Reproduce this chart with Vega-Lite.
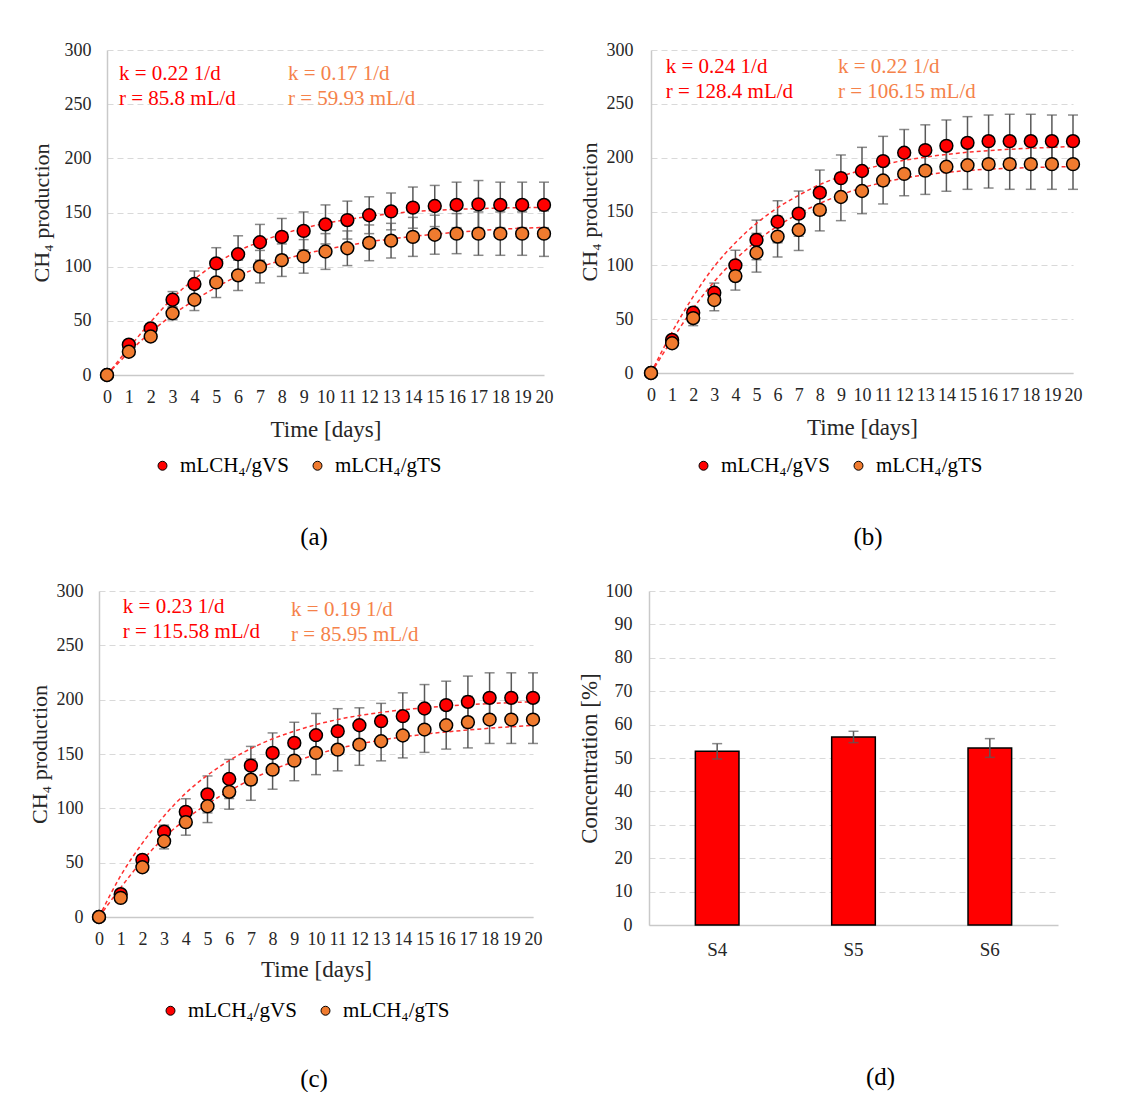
{
"$schema": "https://vega.github.io/schema/vega-lite/v6.json",
"background": "white",
"padding": {"left": 28, "top": 41, "right": 0, "bottom": 0},
"datasets": {
"pts": [
{"p":"a","s":"mLCH₄/gVS","d":0,"v":0,"e":0},{"p":"a","s":"mLCH₄/gVS","d":1,"v":28,"e":3},{"p":"a","s":"mLCH₄/gVS","d":2,"v":43,"e":4},{"p":"a","s":"mLCH₄/gVS","d":3,"v":69.5,"e":7.5},{"p":"a","s":"mLCH₄/gVS","d":4,"v":84,"e":12},{"p":"a","s":"mLCH₄/gVS","d":5,"v":103,"e":14.5},{"p":"a","s":"mLCH₄/gVS","d":6,"v":111.5,"e":17},{"p":"a","s":"mLCH₄/gVS","d":7,"v":122.5,"e":16.5},{"p":"a","s":"mLCH₄/gVS","d":8,"v":127.5,"e":17},{"p":"a","s":"mLCH₄/gVS","d":9,"v":133,"e":17.5},{"p":"a","s":"mLCH₄/gVS","d":10,"v":139,"e":18},{"p":"a","s":"mLCH₄/gVS","d":11,"v":143,"e":17.5},{"p":"a","s":"mLCH₄/gVS","d":12,"v":147.5,"e":17},{"p":"a","s":"mLCH₄/gVS","d":13,"v":151,"e":17},{"p":"a","s":"mLCH₄/gVS","d":14,"v":154.5,"e":19},{"p":"a","s":"mLCH₄/gVS","d":15,"v":156,"e":19},{"p":"a","s":"mLCH₄/gVS","d":16,"v":157,"e":21},{"p":"a","s":"mLCH₄/gVS","d":17,"v":157.5,"e":22},{"p":"a","s":"mLCH₄/gVS","d":18,"v":157,"e":21},{"p":"a","s":"mLCH₄/gVS","d":19,"v":157,"e":21},{"p":"a","s":"mLCH₄/gVS","d":20,"v":157,"e":21},
{"p":"a","s":"mLCH₄/gTS","d":0,"v":0,"e":0},{"p":"a","s":"mLCH₄/gTS","d":1,"v":21.5,"e":2},{"p":"a","s":"mLCH₄/gTS","d":2,"v":35.5,"e":3},{"p":"a","s":"mLCH₄/gTS","d":3,"v":57,"e":6},{"p":"a","s":"mLCH₄/gTS","d":4,"v":69.5,"e":10},{"p":"a","s":"mLCH₄/gTS","d":5,"v":85.5,"e":14},{"p":"a","s":"mLCH₄/gTS","d":6,"v":92,"e":14},{"p":"a","s":"mLCH₄/gTS","d":7,"v":100,"e":15},{"p":"a","s":"mLCH₄/gTS","d":8,"v":106,"e":15},{"p":"a","s":"mLCH₄/gTS","d":9,"v":109.5,"e":15.5},{"p":"a","s":"mLCH₄/gTS","d":10,"v":114,"e":16.5},{"p":"a","s":"mLCH₄/gTS","d":11,"v":117,"e":16},{"p":"a","s":"mLCH₄/gTS","d":12,"v":122,"e":16.5},{"p":"a","s":"mLCH₄/gTS","d":13,"v":124,"e":16},{"p":"a","s":"mLCH₄/gTS","d":14,"v":127.5,"e":18},{"p":"a","s":"mLCH₄/gTS","d":15,"v":129.5,"e":18},{"p":"a","s":"mLCH₄/gTS","d":16,"v":130.5,"e":18.5},{"p":"a","s":"mLCH₄/gTS","d":17,"v":130.5,"e":20},{"p":"a","s":"mLCH₄/gTS","d":18,"v":130.5,"e":20},{"p":"a","s":"mLCH₄/gTS","d":19,"v":130.5,"e":20},{"p":"a","s":"mLCH₄/gTS","d":20,"v":130.5,"e":21},
{"p":"b","s":"mLCH₄/gVS","d":0,"v":0,"e":0},{"p":"b","s":"mLCH₄/gVS","d":1,"v":30.7,"e":3},{"p":"b","s":"mLCH₄/gVS","d":2,"v":56,"e":5},{"p":"b","s":"mLCH₄/gVS","d":3,"v":74.5,"e":9},{"p":"b","s":"mLCH₄/gVS","d":4,"v":100,"e":14},{"p":"b","s":"mLCH₄/gVS","d":5,"v":123.6,"e":18.4},{"p":"b","s":"mLCH₄/gVS","d":6,"v":140.5,"e":19.5},{"p":"b","s":"mLCH₄/gVS","d":7,"v":148,"e":21},{"p":"b","s":"mLCH₄/gVS","d":8,"v":167.5,"e":21},{"p":"b","s":"mLCH₄/gVS","d":9,"v":181,"e":21.5},{"p":"b","s":"mLCH₄/gVS","d":10,"v":187.6,"e":22},{"p":"b","s":"mLCH₄/gVS","d":11,"v":196.8,"e":23},{"p":"b","s":"mLCH₄/gVS","d":12,"v":204.6,"e":21.5},{"p":"b","s":"mLCH₄/gVS","d":13,"v":207,"e":23.5},{"p":"b","s":"mLCH₄/gVS","d":14,"v":211,"e":24},{"p":"b","s":"mLCH₄/gVS","d":15,"v":213.8,"e":24.3},{"p":"b","s":"mLCH₄/gVS","d":16,"v":215.3,"e":24.3},{"p":"b","s":"mLCH₄/gVS","d":17,"v":215.3,"e":25},{"p":"b","s":"mLCH₄/gVS","d":18,"v":215.3,"e":25},{"p":"b","s":"mLCH₄/gVS","d":19,"v":215.3,"e":24.3},{"p":"b","s":"mLCH₄/gVS","d":20,"v":215.3,"e":24.3},
{"p":"b","s":"mLCH₄/gTS","d":0,"v":0,"e":0},{"p":"b","s":"mLCH₄/gTS","d":1,"v":27.6,"e":3},{"p":"b","s":"mLCH₄/gTS","d":2,"v":51,"e":7},{"p":"b","s":"mLCH₄/gTS","d":3,"v":67.8,"e":10},{"p":"b","s":"mLCH₄/gTS","d":4,"v":90,"e":13},{"p":"b","s":"mLCH₄/gTS","d":5,"v":111.7,"e":18},{"p":"b","s":"mLCH₄/gTS","d":6,"v":126.7,"e":19},{"p":"b","s":"mLCH₄/gTS","d":7,"v":132.8,"e":19},{"p":"b","s":"mLCH₄/gTS","d":8,"v":151.5,"e":19.5},{"p":"b","s":"mLCH₄/gTS","d":9,"v":163.5,"e":22},{"p":"b","s":"mLCH₄/gTS","d":10,"v":169,"e":21},{"p":"b","s":"mLCH₄/gTS","d":11,"v":178.8,"e":21.8},{"p":"b","s":"mLCH₄/gTS","d":12,"v":184.9,"e":20.3},{"p":"b","s":"mLCH₄/gTS","d":13,"v":187.9,"e":22},{"p":"b","s":"mLCH₄/gTS","d":14,"v":191.6,"e":22.8},{"p":"b","s":"mLCH₄/gTS","d":15,"v":193,"e":22.4},{"p":"b","s":"mLCH₄/gTS","d":16,"v":194,"e":22.2},{"p":"b","s":"mLCH₄/gTS","d":17,"v":194,"e":23.4},{"p":"b","s":"mLCH₄/gTS","d":18,"v":194,"e":23.4},{"p":"b","s":"mLCH₄/gTS","d":19,"v":194,"e":23.4},{"p":"b","s":"mLCH₄/gTS","d":20,"v":194,"e":23.4},
{"p":"c","s":"mLCH₄/gVS","d":0,"v":0,"e":0},{"p":"c","s":"mLCH₄/gVS","d":1,"v":21,"e":2},{"p":"c","s":"mLCH₄/gVS","d":2,"v":52.6,"e":4},{"p":"c","s":"mLCH₄/gVS","d":3,"v":78.5,"e":6},{"p":"c","s":"mLCH₄/gVS","d":4,"v":96.8,"e":12},{"p":"c","s":"mLCH₄/gVS","d":5,"v":112.8,"e":17},{"p":"c","s":"mLCH₄/gVS","d":6,"v":127,"e":18},{"p":"c","s":"mLCH₄/gVS","d":7,"v":139.3,"e":17.7},{"p":"c","s":"mLCH₄/gVS","d":8,"v":151,"e":18.4},{"p":"c","s":"mLCH₄/gVS","d":9,"v":160.2,"e":19},{"p":"c","s":"mLCH₄/gVS","d":10,"v":167.3,"e":20},{"p":"c","s":"mLCH₄/gVS","d":11,"v":171,"e":20.7},{"p":"c","s":"mLCH₄/gVS","d":12,"v":176.5,"e":16},{"p":"c","s":"mLCH₄/gVS","d":13,"v":180.2,"e":16.4},{"p":"c","s":"mLCH₄/gVS","d":14,"v":184.8,"e":21.5},{"p":"c","s":"mLCH₄/gVS","d":15,"v":191.9,"e":22},{"p":"c","s":"mLCH₄/gVS","d":16,"v":195,"e":22},{"p":"c","s":"mLCH₄/gVS","d":17,"v":198,"e":23.7},{"p":"c","s":"mLCH₄/gVS","d":18,"v":201.7,"e":23},{"p":"c","s":"mLCH₄/gVS","d":19,"v":201.7,"e":23},{"p":"c","s":"mLCH₄/gVS","d":20,"v":201.7,"e":23},
{"p":"c","s":"mLCH₄/gTS","d":0,"v":0,"e":0},{"p":"c","s":"mLCH₄/gTS","d":1,"v":17.6,"e":2},{"p":"c","s":"mLCH₄/gTS","d":2,"v":45.8,"e":3},{"p":"c","s":"mLCH₄/gTS","d":3,"v":69.7,"e":7},{"p":"c","s":"mLCH₄/gTS","d":4,"v":87.3,"e":12},{"p":"c","s":"mLCH₄/gTS","d":5,"v":101.9,"e":15},{"p":"c","s":"mLCH₄/gTS","d":6,"v":115.2,"e":16},{"p":"c","s":"mLCH₄/gTS","d":7,"v":126.4,"e":19},{"p":"c","s":"mLCH₄/gTS","d":8,"v":135.6,"e":18},{"p":"c","s":"mLCH₄/gTS","d":9,"v":143.9,"e":18.5},{"p":"c","s":"mLCH₄/gTS","d":10,"v":151,"e":20},{"p":"c","s":"mLCH₄/gTS","d":11,"v":154,"e":19.5},{"p":"c","s":"mLCH₄/gTS","d":12,"v":158.6,"e":19},{"p":"c","s":"mLCH₄/gTS","d":13,"v":161.7,"e":18},{"p":"c","s":"mLCH₄/gTS","d":14,"v":167,"e":20.6},{"p":"c","s":"mLCH₄/gTS","d":15,"v":172.5,"e":21},{"p":"c","s":"mLCH₄/gTS","d":16,"v":176.5,"e":22},{"p":"c","s":"mLCH₄/gTS","d":17,"v":179.3,"e":23.7},{"p":"c","s":"mLCH₄/gTS","d":18,"v":181.7,"e":22},{"p":"c","s":"mLCH₄/gTS","d":19,"v":181.7,"e":22},{"p":"c","s":"mLCH₄/gTS","d":20,"v":181.7,"e":22}
],
"fit": [
{"p":"a","s":"VS","d":0,"v":0},{"p":"a","s":"VS","d":1,"v":25},{"p":"a","s":"VS","d":2,"v":49},{"p":"a","s":"VS","d":3,"v":71},{"p":"a","s":"VS","d":4,"v":88.5},{"p":"a","s":"VS","d":5,"v":103},{"p":"a","s":"VS","d":6,"v":114.5},{"p":"a","s":"VS","d":7,"v":123},{"p":"a","s":"VS","d":8,"v":130},{"p":"a","s":"VS","d":9,"v":135.5},{"p":"a","s":"VS","d":10,"v":140},{"p":"a","s":"VS","d":11,"v":143.5},{"p":"a","s":"VS","d":12,"v":146.5},{"p":"a","s":"VS","d":13,"v":149},{"p":"a","s":"VS","d":14,"v":150.8},{"p":"a","s":"VS","d":15,"v":152},{"p":"a","s":"VS","d":16,"v":153},{"p":"a","s":"VS","d":17,"v":153.6},{"p":"a","s":"VS","d":18,"v":154.1},{"p":"a","s":"VS","d":19,"v":154.5},{"p":"a","s":"VS","d":20,"v":154.8},
{"p":"a","s":"TS","d":0,"v":0},{"p":"a","s":"TS","d":1,"v":21},{"p":"a","s":"TS","d":2,"v":39.5},{"p":"a","s":"TS","d":3,"v":55.5},{"p":"a","s":"TS","d":4,"v":69},{"p":"a","s":"TS","d":5,"v":81},{"p":"a","s":"TS","d":6,"v":91.5},{"p":"a","s":"TS","d":7,"v":99.5},{"p":"a","s":"TS","d":8,"v":106},{"p":"a","s":"TS","d":9,"v":111.5},{"p":"a","s":"TS","d":10,"v":116},{"p":"a","s":"TS","d":11,"v":119.5},{"p":"a","s":"TS","d":12,"v":123},{"p":"a","s":"TS","d":13,"v":125.5},{"p":"a","s":"TS","d":14,"v":128},{"p":"a","s":"TS","d":15,"v":130},{"p":"a","s":"TS","d":16,"v":131.8},{"p":"a","s":"TS","d":17,"v":133.3},{"p":"a","s":"TS","d":18,"v":134.5},{"p":"a","s":"TS","d":19,"v":135.5},{"p":"a","s":"TS","d":20,"v":136.3},
{"p":"b","s":"VS","d":0,"v":0},{"p":"b","s":"VS","d":1,"v":38},{"p":"b","s":"VS","d":2,"v":71},{"p":"b","s":"VS","d":3,"v":99},{"p":"b","s":"VS","d":4,"v":121},{"p":"b","s":"VS","d":5,"v":139},{"p":"b","s":"VS","d":6,"v":153.5},{"p":"b","s":"VS","d":7,"v":165},{"p":"b","s":"VS","d":8,"v":175},{"p":"b","s":"VS","d":9,"v":182.5},{"p":"b","s":"VS","d":10,"v":188.5},{"p":"b","s":"VS","d":11,"v":193.5},{"p":"b","s":"VS","d":12,"v":197.5},{"p":"b","s":"VS","d":13,"v":200.5},{"p":"b","s":"VS","d":14,"v":203},{"p":"b","s":"VS","d":15,"v":205},{"p":"b","s":"VS","d":16,"v":206.5},{"p":"b","s":"VS","d":17,"v":207.8},{"p":"b","s":"VS","d":18,"v":208.8},{"p":"b","s":"VS","d":19,"v":209.6},{"p":"b","s":"VS","d":20,"v":210.3},
{"p":"b","s":"TS","d":0,"v":0},{"p":"b","s":"TS","d":1,"v":31},{"p":"b","s":"TS","d":2,"v":60},{"p":"b","s":"TS","d":3,"v":85},{"p":"b","s":"TS","d":4,"v":105.5},{"p":"b","s":"TS","d":5,"v":122.5},{"p":"b","s":"TS","d":6,"v":136.5},{"p":"b","s":"TS","d":7,"v":148},{"p":"b","s":"TS","d":8,"v":157.5},{"p":"b","s":"TS","d":9,"v":165.5},{"p":"b","s":"TS","d":10,"v":172},{"p":"b","s":"TS","d":11,"v":177},{"p":"b","s":"TS","d":12,"v":181},{"p":"b","s":"TS","d":13,"v":184},{"p":"b","s":"TS","d":14,"v":186.3},{"p":"b","s":"TS","d":15,"v":188},{"p":"b","s":"TS","d":16,"v":189.3},{"p":"b","s":"TS","d":17,"v":190.2},{"p":"b","s":"TS","d":18,"v":190.8},{"p":"b","s":"TS","d":19,"v":191.3},{"p":"b","s":"TS","d":20,"v":191.7},
{"p":"c","s":"VS","d":0,"v":0},{"p":"c","s":"VS","d":1,"v":38},{"p":"c","s":"VS","d":2,"v":68},{"p":"c","s":"VS","d":3,"v":93},{"p":"c","s":"VS","d":4,"v":114},{"p":"c","s":"VS","d":5,"v":130.5},{"p":"c","s":"VS","d":6,"v":144},{"p":"c","s":"VS","d":7,"v":155},{"p":"c","s":"VS","d":8,"v":164},{"p":"c","s":"VS","d":9,"v":171},{"p":"c","s":"VS","d":10,"v":177},{"p":"c","s":"VS","d":11,"v":181.7},{"p":"c","s":"VS","d":12,"v":185.4},{"p":"c","s":"VS","d":13,"v":188.3},{"p":"c","s":"VS","d":14,"v":190.6},{"p":"c","s":"VS","d":15,"v":192.5},{"p":"c","s":"VS","d":16,"v":194},{"p":"c","s":"VS","d":17,"v":195.3},{"p":"c","s":"VS","d":18,"v":196.4},{"p":"c","s":"VS","d":19,"v":197.3},{"p":"c","s":"VS","d":20,"v":198},
{"p":"c","s":"TS","d":0,"v":0},{"p":"c","s":"TS","d":1,"v":27},{"p":"c","s":"TS","d":2,"v":52},{"p":"c","s":"TS","d":3,"v":73},{"p":"c","s":"TS","d":4,"v":90},{"p":"c","s":"TS","d":5,"v":104},{"p":"c","s":"TS","d":6,"v":116},{"p":"c","s":"TS","d":7,"v":126.5},{"p":"c","s":"TS","d":8,"v":135.5},{"p":"c","s":"TS","d":9,"v":143},{"p":"c","s":"TS","d":10,"v":149.5},{"p":"c","s":"TS","d":11,"v":155},{"p":"c","s":"TS","d":12,"v":159.3},{"p":"c","s":"TS","d":13,"v":162.8},{"p":"c","s":"TS","d":14,"v":165.7},{"p":"c","s":"TS","d":15,"v":168.2},{"p":"c","s":"TS","d":16,"v":170.3},{"p":"c","s":"TS","d":17,"v":172.1},{"p":"c","s":"TS","d":18,"v":173.7},{"p":"c","s":"TS","d":19,"v":175.1},{"p":"c","s":"TS","d":20,"v":176.3}
],
"notes": [
{"p":"a","s":"VS","t":"k = 0.22 1/d\nr = 85.8 mL/d"},
{"p":"a","s":"TS","t":"k = 0.17 1/d\nr = 59.93 mL/d"},
{"p":"b","s":"VS","t":"k = 0.24 1/d\nr = 128.4 mL/d"},
{"p":"b","s":"TS","t":"k = 0.22 1/d\nr = 106.15 mL/d"},
{"p":"c","s":"VS","t":"k = 0.23 1/d\nr = 115.58 mL/d"},
{"p":"c","s":"TS","t":"k = 0.19 1/d\nr = 85.95 mL/d"}
],
"conc": [
{"sample":"S4","v":52,"e":2.3},
{"sample":"S5","v":56.3,"e":1.7},
{"sample":"S6","v":53,"e":2.8}
]
},
"config": {
"font": "Liberation Serif",
"view": {"stroke": null},
"axis": {"ticks": false, "labelFont": "Liberation Serif", "titleFont": "Liberation Serif", "labelFontSize": 18, "labelColor": "#262626", "titleColor": "#262626", "titleFontWeight": "normal", "domainColor": "#c9c9c9", "domainWidth": 1.5, "gridColor": "#d9d9d9", "gridDash": [6, 4], "gridWidth": 1},
"axisX": {"grid": false, "labelOverlap": false, "labelFlush": false},
"axisY": {"grid": true, "labelOverlap": false},
"legend": {"orient": "none", "direction": "horizontal", "title": null, "labelFont": "Liberation Serif", "labelFontSize": 21, "labelColor": "#000", "symbolType": "circle", "symbolSize": 80, "symbolStrokeColor": "#000", "symbolStrokeWidth": 1, "symbolOpacity": 1, "labelOffset": 7, "columnPadding": 18, "padding": 0},
"title": {"font": "Liberation Serif", "fontWeight": "normal", "fontSize": 25, "color": "#000", "orient": "bottom", "frame": "group", "anchor": "middle"}
},
"resolve": {"scale": {"color": "independent"}, "legend": {"color": "independent"}},
"columns": 2,
"align": "none",
"spacing": {"row": 32, "column": 24},
"concat": [
{
"width": 445, "height": 325,
"title": {"text": "(a)", "offset": 49, "dx": -7.5},
"layer": [
{"data": {"name": "pts"}, "transform": [{"filter": "datum.p == 'a'"}],
"mark": {"type": "errorbar", "ticks": {"size": 10}, "color": "#595959", "thickness": 1.5},
"encoding": {
"x": {"field": "d", "type": "quantitative", "scale": {"domain": [0, 20], "nice": false, "range": [8, 445]}, "axis": {"values": [0,1,2,3,4,5,6,7,8,9,10,11,12,13,14,15,16,17,18,19,20], "title": "Time [days]", "labelPadding": 13, "titleFontSize": 23, "titlePadding": 12}},
"y": {"field": "v", "type": "quantitative", "scale": {"domain": [0, 300], "nice": false}, "axis": {"values": [0,50,100,150,200,250,300], "title": "CH₄ production", "labelPadding": 16, "titleFontSize": 22, "titlePadding": 11, "offset": -8}},
"yError": {"field": "e"}, "detail": {"field": "s"}}},
{"data": {"name": "fit"}, "transform": [{"filter": "datum.p == 'a'"}],
"mark": {"type": "line", "color": "#ff3030", "strokeDash": [4, 3], "strokeWidth": 1.5, "interpolate": "monotone"},
"encoding": {
"x": {"field": "d", "type": "quantitative", "axis": {"values": [0,1,2,3,4,5,6,7,8,9,10,11,12,13,14,15,16,17,18,19,20], "title": "Time [days]", "labelPadding": 13, "titleFontSize": 23, "titlePadding": 12}},
"y": {"field": "v", "type": "quantitative", "axis": {"values": [0,50,100,150,200,250,300], "title": "CH₄ production", "labelPadding": 16, "titleFontSize": 22, "titlePadding": 11, "offset": -8}},
"detail": {"field": "s"}}},
{"data": {"name": "pts"}, "transform": [{"filter": "datum.p == 'a'"}],
"mark": {"type": "circle", "size": 165, "opacity": 1, "stroke": "#000", "strokeWidth": 1.5},
"encoding": {
"x": {"field": "d", "type": "quantitative", "axis": {"values": [0,1,2,3,4,5,6,7,8,9,10,11,12,13,14,15,16,17,18,19,20], "title": "Time [days]", "labelPadding": 13, "titleFontSize": 23, "titlePadding": 12}},
"y": {"field": "v", "type": "quantitative", "axis": {"values": [0,50,100,150,200,250,300], "title": "CH₄ production", "labelPadding": 16, "titleFontSize": 22, "titlePadding": 11, "offset": -8}},
"color": {"field": "s", "type": "nominal", "sort": null, "scale": {"domain": ["mLCH₄/gVS", "mLCH₄/gTS"], "range": ["#ff0000", "#f07b2f"]}, "legend": {"legendX": 53, "legendY": 405}}}},
{"data": {"name": "notes"}, "transform": [{"filter": "datum.p == 'a' && datum.s == 'VS'"}],
"mark": {"type": "text", "align": "left", "baseline": "top", "fontSize": 21, "lineHeight": 25, "lineBreak": "\n", "color": "#ff0000"},
"encoding": {
"x": {"datum": 0.55, "type": "quantitative", "axis": {"values": [0,1,2,3,4,5,6,7,8,9,10,11,12,13,14,15,16,17,18,19,20], "title": "Time [days]", "labelPadding": 13, "titleFontSize": 23, "titlePadding": 12}},
"y": {"datum": 288, "type": "quantitative", "axis": {"values": [0,50,100,150,200,250,300], "title": "CH₄ production", "labelPadding": 16, "titleFontSize": 22, "titlePadding": 11, "offset": -8}},
"text": {"field": "t"}}},
{"data": {"name": "notes"}, "transform": [{"filter": "datum.p == 'a' && datum.s == 'TS'"}],
"mark": {"type": "text", "align": "left", "baseline": "top", "fontSize": 21, "lineHeight": 25, "lineBreak": "\n", "color": "#f5824a"},
"encoding": {
"x": {"datum": 8.28, "type": "quantitative", "axis": {"values": [0,1,2,3,4,5,6,7,8,9,10,11,12,13,14,15,16,17,18,19,20], "title": "Time [days]", "labelPadding": 13, "titleFontSize": 23, "titlePadding": 12}},
"y": {"datum": 288, "type": "quantitative", "axis": {"values": [0,50,100,150,200,250,300], "title": "CH₄ production", "labelPadding": 16, "titleFontSize": 22, "titlePadding": 11, "offset": -8}},
"text": {"field": "t"}}}
]
},
{
"width": 422, "height": 323,
"title": {"text": "(b)", "offset": 49, "dx": 6},
"layer": [
{"data": {"name": "pts"}, "transform": [{"filter": "datum.p == 'b'"}],
"mark": {"type": "errorbar", "ticks": {"size": 10}, "color": "#595959", "thickness": 1.5},
"encoding": {
"x": {"field": "d", "type": "quantitative", "scale": {"domain": [0, 20], "nice": false}, "axis": {"values": [0,1,2,3,4,5,6,7,8,9,10,11,12,13,14,15,16,17,18,19,20], "title": "Time [days]", "labelPadding": 13, "titleFontSize": 23, "titlePadding": 12}},
"y": {"field": "v", "type": "quantitative", "scale": {"domain": [0, 300], "nice": false}, "axis": {"values": [0,50,100,150,200,250,300], "title": "CH₄ production", "labelPadding": 18, "titleFontSize": 22, "titlePadding": 5}},
"yError": {"field": "e"}, "detail": {"field": "s"}}},
{"data": {"name": "fit"}, "transform": [{"filter": "datum.p == 'b'"}],
"mark": {"type": "line", "color": "#ff3030", "strokeDash": [4, 3], "strokeWidth": 1.5, "interpolate": "monotone"},
"encoding": {
"x": {"field": "d", "type": "quantitative", "axis": {"values": [0,1,2,3,4,5,6,7,8,9,10,11,12,13,14,15,16,17,18,19,20], "title": "Time [days]", "labelPadding": 13, "titleFontSize": 23, "titlePadding": 12}},
"y": {"field": "v", "type": "quantitative", "axis": {"values": [0,50,100,150,200,250,300], "title": "CH₄ production", "labelPadding": 18, "titleFontSize": 22, "titlePadding": 5}},
"detail": {"field": "s"}}},
{"data": {"name": "pts"}, "transform": [{"filter": "datum.p == 'b'"}],
"mark": {"type": "circle", "size": 165, "opacity": 1, "stroke": "#000", "strokeWidth": 1.5},
"encoding": {
"x": {"field": "d", "type": "quantitative", "axis": {"values": [0,1,2,3,4,5,6,7,8,9,10,11,12,13,14,15,16,17,18,19,20], "title": "Time [days]", "labelPadding": 13, "titleFontSize": 23, "titlePadding": 12}},
"y": {"field": "v", "type": "quantitative", "axis": {"values": [0,50,100,150,200,250,300], "title": "CH₄ production", "labelPadding": 18, "titleFontSize": 22, "titlePadding": 5}},
"color": {"field": "s", "type": "nominal", "sort": null, "scale": {"domain": ["mLCH₄/gVS", "mLCH₄/gTS"], "range": ["#ff0000", "#f07b2f"]}, "legend": {"legendX": 42, "legendY": 405}}}},
{"data": {"name": "notes"}, "transform": [{"filter": "datum.p == 'b' && datum.s == 'VS'"}],
"mark": {"type": "text", "align": "left", "baseline": "top", "fontSize": 21, "lineHeight": 25, "lineBreak": "\n", "color": "#ff0000"},
"encoding": {
"x": {"datum": 0.7, "type": "quantitative", "axis": {"values": [0,1,2,3,4,5,6,7,8,9,10,11,12,13,14,15,16,17,18,19,20], "title": "Time [days]", "labelPadding": 13, "titleFontSize": 23, "titlePadding": 12}},
"y": {"datum": 294, "type": "quantitative", "axis": {"values": [0,50,100,150,200,250,300], "title": "CH₄ production", "labelPadding": 18, "titleFontSize": 22, "titlePadding": 5}},
"text": {"field": "t"}}},
{"data": {"name": "notes"}, "transform": [{"filter": "datum.p == 'b' && datum.s == 'TS'"}],
"mark": {"type": "text", "align": "left", "baseline": "top", "fontSize": 21, "lineHeight": 25, "lineBreak": "\n", "color": "#f5824a"},
"encoding": {
"x": {"datum": 8.86, "type": "quantitative", "axis": {"values": [0,1,2,3,4,5,6,7,8,9,10,11,12,13,14,15,16,17,18,19,20], "title": "Time [days]", "labelPadding": 13, "titleFontSize": 23, "titlePadding": 12}},
"y": {"datum": 294, "type": "quantitative", "axis": {"values": [0,50,100,150,200,250,300], "title": "CH₄ production", "labelPadding": 18, "titleFontSize": 22, "titlePadding": 5}},
"text": {"field": "t"}}}
]
},
{
"width": 434, "height": 326,
"title": {"text": "(c)", "offset": 46, "dx": -2},
"layer": [
{"data": {"name": "pts"}, "transform": [{"filter": "datum.p == 'c'"}],
"mark": {"type": "errorbar", "ticks": {"size": 10}, "color": "#595959", "thickness": 1.5},
"encoding": {
"x": {"field": "d", "type": "quantitative", "scale": {"domain": [0, 20], "nice": false}, "axis": {"values": [0,1,2,3,4,5,6,7,8,9,10,11,12,13,14,15,16,17,18,19,20], "title": "Time [days]", "labelPadding": 13, "titleFontSize": 23, "titlePadding": 10}},
"y": {"field": "v", "type": "quantitative", "scale": {"domain": [0, 300], "nice": false}, "axis": {"values": [0,50,100,150,200,250,300], "title": "CH₄ production", "labelPadding": 16, "titleFontSize": 22, "titlePadding": 5}},
"yError": {"field": "e"}, "detail": {"field": "s"}}},
{"data": {"name": "fit"}, "transform": [{"filter": "datum.p == 'c'"}],
"mark": {"type": "line", "color": "#ff3030", "strokeDash": [4, 3], "strokeWidth": 1.5, "interpolate": "monotone"},
"encoding": {
"x": {"field": "d", "type": "quantitative", "axis": {"values": [0,1,2,3,4,5,6,7,8,9,10,11,12,13,14,15,16,17,18,19,20], "title": "Time [days]", "labelPadding": 13, "titleFontSize": 23, "titlePadding": 10}},
"y": {"field": "v", "type": "quantitative", "axis": {"values": [0,50,100,150,200,250,300], "title": "CH₄ production", "labelPadding": 16, "titleFontSize": 22, "titlePadding": 5}},
"detail": {"field": "s"}}},
{"data": {"name": "pts"}, "transform": [{"filter": "datum.p == 'c'"}],
"mark": {"type": "circle", "size": 165, "opacity": 1, "stroke": "#000", "strokeWidth": 1.5},
"encoding": {
"x": {"field": "d", "type": "quantitative", "axis": {"values": [0,1,2,3,4,5,6,7,8,9,10,11,12,13,14,15,16,17,18,19,20], "title": "Time [days]", "labelPadding": 13, "titleFontSize": 23, "titlePadding": 10}},
"y": {"field": "v", "type": "quantitative", "axis": {"values": [0,50,100,150,200,250,300], "title": "CH₄ production", "labelPadding": 16, "titleFontSize": 22, "titlePadding": 5}},
"color": {"field": "s", "type": "nominal", "sort": null, "scale": {"domain": ["mLCH₄/gVS", "mLCH₄/gTS"], "range": ["#ff0000", "#f07b2f"]}, "legend": {"legendX": 61, "legendY": 409}}}},
{"data": {"name": "notes"}, "transform": [{"filter": "datum.p == 'c' && datum.s == 'VS'"}],
"mark": {"type": "text", "align": "left", "baseline": "top", "fontSize": 21, "lineHeight": 25, "lineBreak": "\n", "color": "#ff0000"},
"encoding": {
"x": {"datum": 1.1, "type": "quantitative", "axis": {"values": [0,1,2,3,4,5,6,7,8,9,10,11,12,13,14,15,16,17,18,19,20], "title": "Time [days]", "labelPadding": 13, "titleFontSize": 23, "titlePadding": 10}},
"y": {"datum": 295.4, "type": "quantitative", "axis": {"values": [0,50,100,150,200,250,300], "title": "CH₄ production", "labelPadding": 16, "titleFontSize": 22, "titlePadding": 5}},
"text": {"field": "t"}}},
{"data": {"name": "notes"}, "transform": [{"filter": "datum.p == 'c' && datum.s == 'TS'"}],
"mark": {"type": "text", "align": "left", "baseline": "top", "fontSize": 21, "lineHeight": 25, "lineBreak": "\n", "color": "#f5824a"},
"encoding": {
"x": {"datum": 8.85, "type": "quantitative", "axis": {"values": [0,1,2,3,4,5,6,7,8,9,10,11,12,13,14,15,16,17,18,19,20], "title": "Time [days]", "labelPadding": 13, "titleFontSize": 23, "titlePadding": 10}},
"y": {"datum": 292.6, "type": "quantitative", "axis": {"values": [0,50,100,150,200,250,300], "title": "CH₄ production", "labelPadding": 16, "titleFontSize": 22, "titlePadding": 5}},
"text": {"field": "t"}}}
]
},
{
"width": 409, "height": 334,
"title": {"text": "(d)", "offset": 106, "dx": 27},
"layer": [
{"data": {"name": "conc"},
"mark": {"type": "bar", "fill": "#ff0000", "stroke": "#000", "strokeWidth": 1.5},
"encoding": {
"x": {"field": "sample", "type": "nominal", "scale": {"paddingInner": 0.68, "paddingOuter": 0.34}, "axis": {"title": null, "labelAngle": 0, "labelPadding": 15, "labelFontSize": 19}},
"y": {"field": "v", "type": "quantitative", "scale": {"domain": [0, 100], "nice": false}, "axis": {"values": [0,10,20,30,40,50,60,70,80,90,100], "title": "Concentration [%]", "labelPadding": 17, "titleFontSize": 23, "titlePadding": 4}}}},
{"data": {"name": "conc"},
"mark": {"type": "errorbar", "ticks": {"size": 10}, "color": "#595959", "thickness": 1.5},
"encoding": {
"x": {"field": "sample", "type": "nominal", "axis": {"title": null, "labelAngle": 0, "labelPadding": 15, "labelFontSize": 19}},
"y": {"field": "v", "type": "quantitative", "axis": {"values": [0,10,20,30,40,50,60,70,80,90,100], "title": "Concentration [%]", "labelPadding": 17, "titleFontSize": 23, "titlePadding": 4}},
"yError": {"field": "e"}}}
]
}
]
}
